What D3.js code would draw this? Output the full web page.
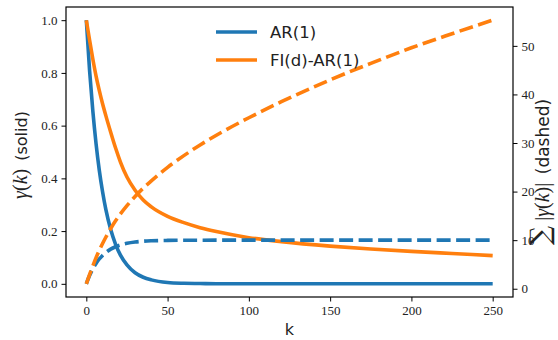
<!DOCTYPE html>
<html>
<head>
<meta charset="utf-8">
<script src="https://cdn.jsdelivr.net/npm/d3@7"></script>
<style>
  body { margin: 0; background: #fff; }
</style>
</head>
<body>
<div id="chart"></div>
<script>
// lags
const lags = [0, 2, 4, 6, 8, 10, 12, 15, 18, 21, 25, 30, 35, 40, 50, 60, 70, 80, 100, 120, 150, 175, 200, 225, 250];

// gamma(k), solid lines
const arAcf = [1.0, 0.81, 0.656, 0.531, 0.43, 0.349, 0.282, 0.206, 0.15, 0.109, 0.072, 0.042, 0.025, 0.015, 0.005, 0.002, 0.001, 0.0, 0.0, 0.0, 0.0, 0.0, 0.0, 0.0, 0.0];
const fiAcf = [1.0, 0.925, 0.853, 0.788, 0.733, 0.683, 0.638, 0.575, 0.515, 0.462, 0.405, 0.355, 0.318, 0.292, 0.256, 0.232, 0.213, 0.198, 0.175, 0.16, 0.143, 0.132, 0.123, 0.115, 0.107];

// sum |gamma(k)|, dashed lines
const arCum = [1.0, 2.71, 4.1, 5.22, 6.13, 6.86, 7.46, 8.15, 8.65, 9.02, 9.35, 9.62, 9.78, 9.87, 9.95, 9.98, 9.99, 10.0, 10.0, 10.0, 10.0, 10.0, 10.0, 10.0, 10.0];
const fiCum = [1.0, 2.9, 4.7, 6.4, 7.9, 9.3, 10.6, 12.4, 14.0, 15.4, 17.1, 19.0, 20.7, 22.2, 25.0, 27.4, 29.6, 31.6, 35.2, 38.5, 43.0, 46.4, 49.6, 52.5, 55.3];

const seriesNames = ["AR(1)", "FI(d)-AR(1)"];
const xTicks = [0, 50, 100, 150, 200, 250];
const leftTicks = [0, 0.2, 0.4, 0.6, 0.8, 1.0];
const rightTicks = [0, 10, 20, 30, 40, 50];

const blue = "#1f77b4", orange = "#ff7f0e";

const W = 558, H = 340;
const margin = { top: 7, right: 45, bottom: 43, left: 66 };
const width = W - margin.left - margin.right,
  height = H - margin.top - margin.bottom;

const svg = d3.select("#chart").append("svg")
  .attr("width", W)
  .attr("height", H);

const g = svg.append("g")
  .attr("transform", `translate(${margin.left},${margin.top})`);

const x = d3.scaleLinear().domain([-12.5, 262.5]).range([0, width]);
const y = d3.scaleLinear().domain([-0.05, 1.05]).range([height, 0]);
const y2 = d3.scaleLinear().domain([-1.7, 58.0]).range([height, 0]);

const rows = lags.map((k, i) => ({ k, ar: arAcf[i], fi: fiAcf[i], arc: arCum[i], fic: fiCum[i] }));

const lineL = key => d3.line().curve(d3.curveMonotoneX).x(d => x(d.k)).y(d => y(d[key]));
const lineR = key => d3.line().curve(d3.curveMonotoneX).x(d => x(d.k)).y(d => y2(d[key]));

const lw = 3.6;
const dash = "14,5.5";

g.append("path").datum(rows).attr("d", lineL("ar"))
  .attr("fill", "none").attr("stroke", blue).attr("stroke-width", lw);
g.append("path").datum(rows).attr("d", lineL("fi"))
  .attr("fill", "none").attr("stroke", orange).attr("stroke-width", lw);
g.append("path").datum(rows).attr("d", lineR("arc"))
  .attr("fill", "none").attr("stroke", blue).attr("stroke-width", lw)
  .attr("stroke-dasharray", dash);
g.append("path").datum(rows).attr("d", lineR("fic"))
  .attr("fill", "none").attr("stroke", orange).attr("stroke-width", lw)
  .attr("stroke-dasharray", dash);

// axes
const fmt1 = d3.format(".1f");
const styleAxis = a => {
  a.attr("font-family", "Liberation Serif").attr("font-size", 13);
  a.select(".domain").remove();
  a.selectAll(".tick text").attr("fill", "#222");
  a.selectAll(".tick line").attr("stroke", "#000").attr("stroke-width", 1);
};
g.append("g").attr("transform", `translate(0,${height})`)
  .call(d3.axisBottom(x).tickValues(xTicks).tickSize(4.5).tickPadding(4))
  .call(styleAxis);
g.append("g")
  .call(d3.axisLeft(y).tickValues(leftTicks).tickFormat(fmt1).tickSize(4.5).tickPadding(4))
  .call(styleAxis);
g.append("g").attr("transform", `translate(${width},0)`)
  .call(d3.axisRight(y2).tickValues(rightTicks).tickSize(4.5).tickPadding(4))
  .call(styleAxis);

// frame
g.append("rect").attr("width", width).attr("height", height)
  .attr("fill", "none").attr("stroke", "#000").attr("stroke-width", 1.2);

// axis labels
svg.append("text")
  .attr("x", margin.left + x(125)).attr("y", 335)
  .attr("text-anchor", "middle")
  .style("font-family", "DejaVu Sans").style("font-size", "16px").style("fill", "#222")
  .text("k");

const mathSerif = (t, s, italic, size) => t.append("tspan")
  .style("font-family", "Liberation Serif")
  .style("font-style", italic ? "italic" : "normal")
  .style("font-size", size + "px").text(s);

const yl = svg.append("text")
  .attr("transform", `translate(27,155) rotate(-90)`)
  .attr("text-anchor", "middle")
  .style("fill", "#222");
mathSerif(yl, "γ", true, 20);
mathSerif(yl, "(", false, 20);
mathSerif(yl, "k", true, 20);
mathSerif(yl, ")", false, 20);
yl.append("tspan").style("font-family", "DejaVu Sans").style("font-size", "16px").text("\u2002(solid)");

const yr = svg.append("text")
  .attr("transform", `translate(549,172) rotate(-90)`)
  .attr("text-anchor", "middle")
  .style("fill", "#222");
yr.append("tspan").style("font-family", "DejaVu Serif").style("font-size", "27px").text("∑");
mathSerif(yr, " |", false, 20);
mathSerif(yr, "γ", true, 20);
mathSerif(yr, "(", false, 20);
mathSerif(yr, "k", true, 20);
mathSerif(yr, ")|", false, 20);
yr.append("tspan").style("font-family", "DejaVu Sans").style("font-size", "17px").text("\u2002(dashed)");

// legend
const legend = svg.append("g").attr("transform", "translate(216,32)");
seriesNames.forEach((name, i) => {
  const row = legend.append("g").attr("transform", `translate(0,${i * 28})`);
  row.append("line").attr("x1", 0).attr("x2", 41)
    .attr("stroke", i === 0 ? blue : orange).attr("stroke-width", lw);
  row.append("text").attr("x", 54).attr("y", 6)
    .style("font-family", "DejaVu Sans").style("font-size", "16.5px").style("fill", "#222")
    .text(name);
});
</script>
</body>
</html>
